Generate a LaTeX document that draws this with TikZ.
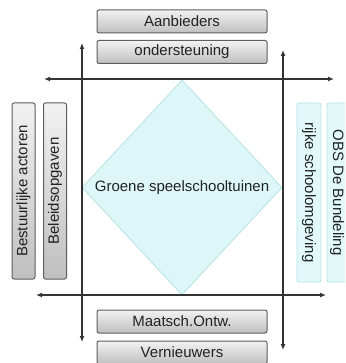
\documentclass[tikz,border=0pt]{standalone}
\usepackage{fontspec}
\setmainfont{Liberation Sans}
\usetikzlibrary{shapes.geometric,arrows.meta}
\definecolor{boxborder}{HTML}{5E5E5E}
\definecolor{graytop}{HTML}{F2F2F2}
\definecolor{graybot}{HTML}{BFBFBF}
\definecolor{cyanfill}{HTML}{E2F9FA}
\definecolor{cyanborder}{HTML}{B5E3E8}
\definecolor{diamfill}{HTML}{DDF7F8}
\definecolor{diamborder}{HTML}{B8E2E2}
\definecolor{arrowcol}{HTML}{333333}
\definecolor{txt}{HTML}{222222}
\tikzset{
  lbl/.style={font=\fontsize{15}{18}\selectfont, text=txt},
  graybox/.style={lbl, draw=boxborder, line width=1pt, rounded corners=2pt,
    top color=graytop, bottom color=graybot, inner sep=0pt,
    minimum width=170pt, minimum height=23pt},
  grayvbox/.style={lbl, draw=boxborder, line width=1pt, rounded corners=2pt,
    top color=graytop, bottom color=graybot, inner sep=0pt,
    minimum width=176pt, minimum height=23pt, rotate=90},
  cyanvbox/.style={lbl, draw=cyanborder, line width=0.8pt, rounded corners=2pt,
    fill=cyanfill, inner sep=0pt,
    minimum width=179pt, minimum height=24pt, rotate=-90},
  diam/.style={diamond, draw=diamborder, line width=0.8pt, fill=diamfill,
    inner sep=0pt, aspect=1, minimum width=200pt, minimum height=215pt},
  axis/.style={draw=arrowcol, line width=1.2pt, {Latex[length=6pt,width=5pt]}-{Latex[length=6pt,width=5pt]}}
}
\begin{document}
\begin{tikzpicture}[x=1pt,y=-1pt]
\useasboundingbox (0,0) rectangle (345,363);
\clip (0,0) rectangle (345,363);
\fill[white] (0,0) rectangle (345,363);
% diamond
\node[diam] (d) at (182,187.5) {};
\node[lbl] (dt) at (d.center) {Groene speelschooltuinen};
% boxes
\node[graybox] (aan) at (182,21.5) {Aanbieders};
\node[graybox] (ond) at (182,52) {ondersteuning};
\node[graybox] (maa) at (182,321.5) {Maatsch.Ontw.};
\node[graybox] (ver) at (182,352.5) {Vernieuwers};
\node[grayvbox] (bes) at (23.5,191) {Bestuurlijke actoren};
\node[grayvbox] (bel) at (55,191) {Beleidsopgaven};
\node[cyanvbox] (rij) at (309,192.5) {rijke schoolomgeving};
\node[cyanvbox] (obs) at (339,192.5) {};
\node[lbl, rotate=-90] (obst) at (337,192.5) {OBS De Bundeling};
% axes
\coordinate (lvt) at (82,43);
\coordinate (lvb) at (82,342);
\coordinate (rvt) at (283,50);
\coordinate (rvb) at (283,350);
\coordinate (tl) at (44,79);
\coordinate (tr) at (334,79);
\coordinate (bl) at (36,295);
\coordinate (br) at (326,295);
\draw[axis] (lvt) -- (lvb);
\draw[axis] (rvt) -- (rvb);
\draw[axis] (tl) -- (tr);
\draw[axis] (bl) -- (br);
\end{tikzpicture}
\end{document}
